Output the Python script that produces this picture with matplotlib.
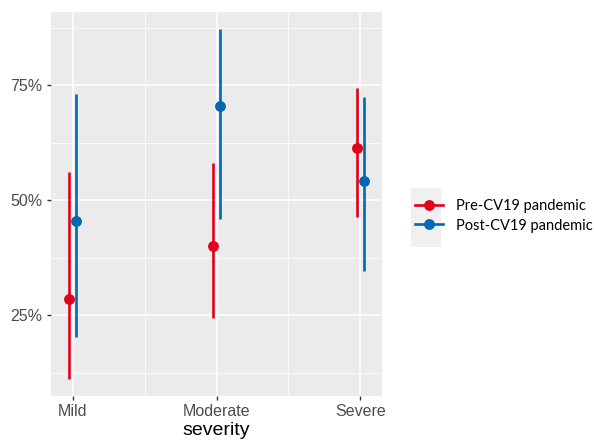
import matplotlib.pyplot as plt
from matplotlib.lines import Line2D
from matplotlib.patches import Rectangle
from matplotlib.ticker import FixedLocator, PercentFormatter

# data (in %)
severity = ['Mild', 'Moderate', 'Severe']
groups = ['Pre-CV19 pandemic', 'Post-CV19 pandemic']
colors = ['#E2001A', '#0069B4']

pre_est = [28.6, 40.0, 61.4]
pre_low = [11.2, 24.3, 46.4]
pre_high = [56.0, 58.0, 74.4]

post_est = [45.4, 70.5, 54.1]
post_low = [20.3, 45.8, 34.6]
post_high = [73.0, 87.1, 72.5]

W, H = 594, 441
fig = plt.figure(figsize=(W / 100, H / 100), dpi=100)
ax = fig.add_axes([51 / W, 1 - 396 / H, (382 - 51) / W, (396 - 12) / H])
ax.set_facecolor('#EBEBEB')
for s in ax.spines.values():
    s.set_visible(False)

dodge = 0.026
series = [(pre_est, pre_low, pre_high), (post_est, post_low, post_high)]
for g, (est, low, high) in enumerate(series):
    off = -dodge if g == 0 else dodge
    xs = [i + off for i in range(len(severity))]
    ax.vlines(xs, low, high, color=colors[g], lw=1.9, zorder=3)
    ax.plot(xs, est, 'o', color=colors[g], ms=6.8, zorder=4)

ax.set_xlim(-0.15, 2.15)
ax.set_ylim(7.4, 90.9)
ax.set_xticks(range(len(severity)))
ax.set_xticklabels(severity)
ax.set_yticks([25, 50, 75])
ax.yaxis.set_major_formatter(PercentFormatter(decimals=0))
ax.yaxis.set_minor_locator(FixedLocator([12.5, 37.5, 62.5, 87.5]))
ax.xaxis.set_minor_locator(FixedLocator([0.5, 1.5]))

ax.grid(True, which='major', color='white', lw=1.1)
ax.grid(True, which='minor', color='white', lw=0.55)
ax.set_axisbelow(True)
ax.tick_params(which='major', length=3, width=1, color='#333333',
               labelcolor='#4D4D4D', labelsize=11.5, pad=3)
ax.tick_params(which='minor', length=0)
for lab in ax.get_xticklabels() + ax.get_yticklabels():
    lab.set_family('Liberation Sans')
ax.set_xlabel('severity', fontsize=14, family='Liberation Sans', labelpad=2)

# legend key background
fig.patches.append(Rectangle((411 / W, 1 - 247 / H), 30 / W, 59 / H,
                             transform=fig.transFigure, facecolor='#F0F0F0',
                             edgecolor='none', zorder=0))
handles = [Line2D([], [], color=c, lw=1.9, marker='o', ms=6.8) for c in colors]
fig.legend(handles, groups, loc='center left',
           bbox_to_anchor=(408 / W, 1 - 216 / H), frameon=False,
           prop={'family': 'Lato', 'size': 10.5}, handlelength=1.9,
           handletextpad=0.9, labelspacing=0.35, borderpad=0)

fig.savefig('out.png', dpi=100)
